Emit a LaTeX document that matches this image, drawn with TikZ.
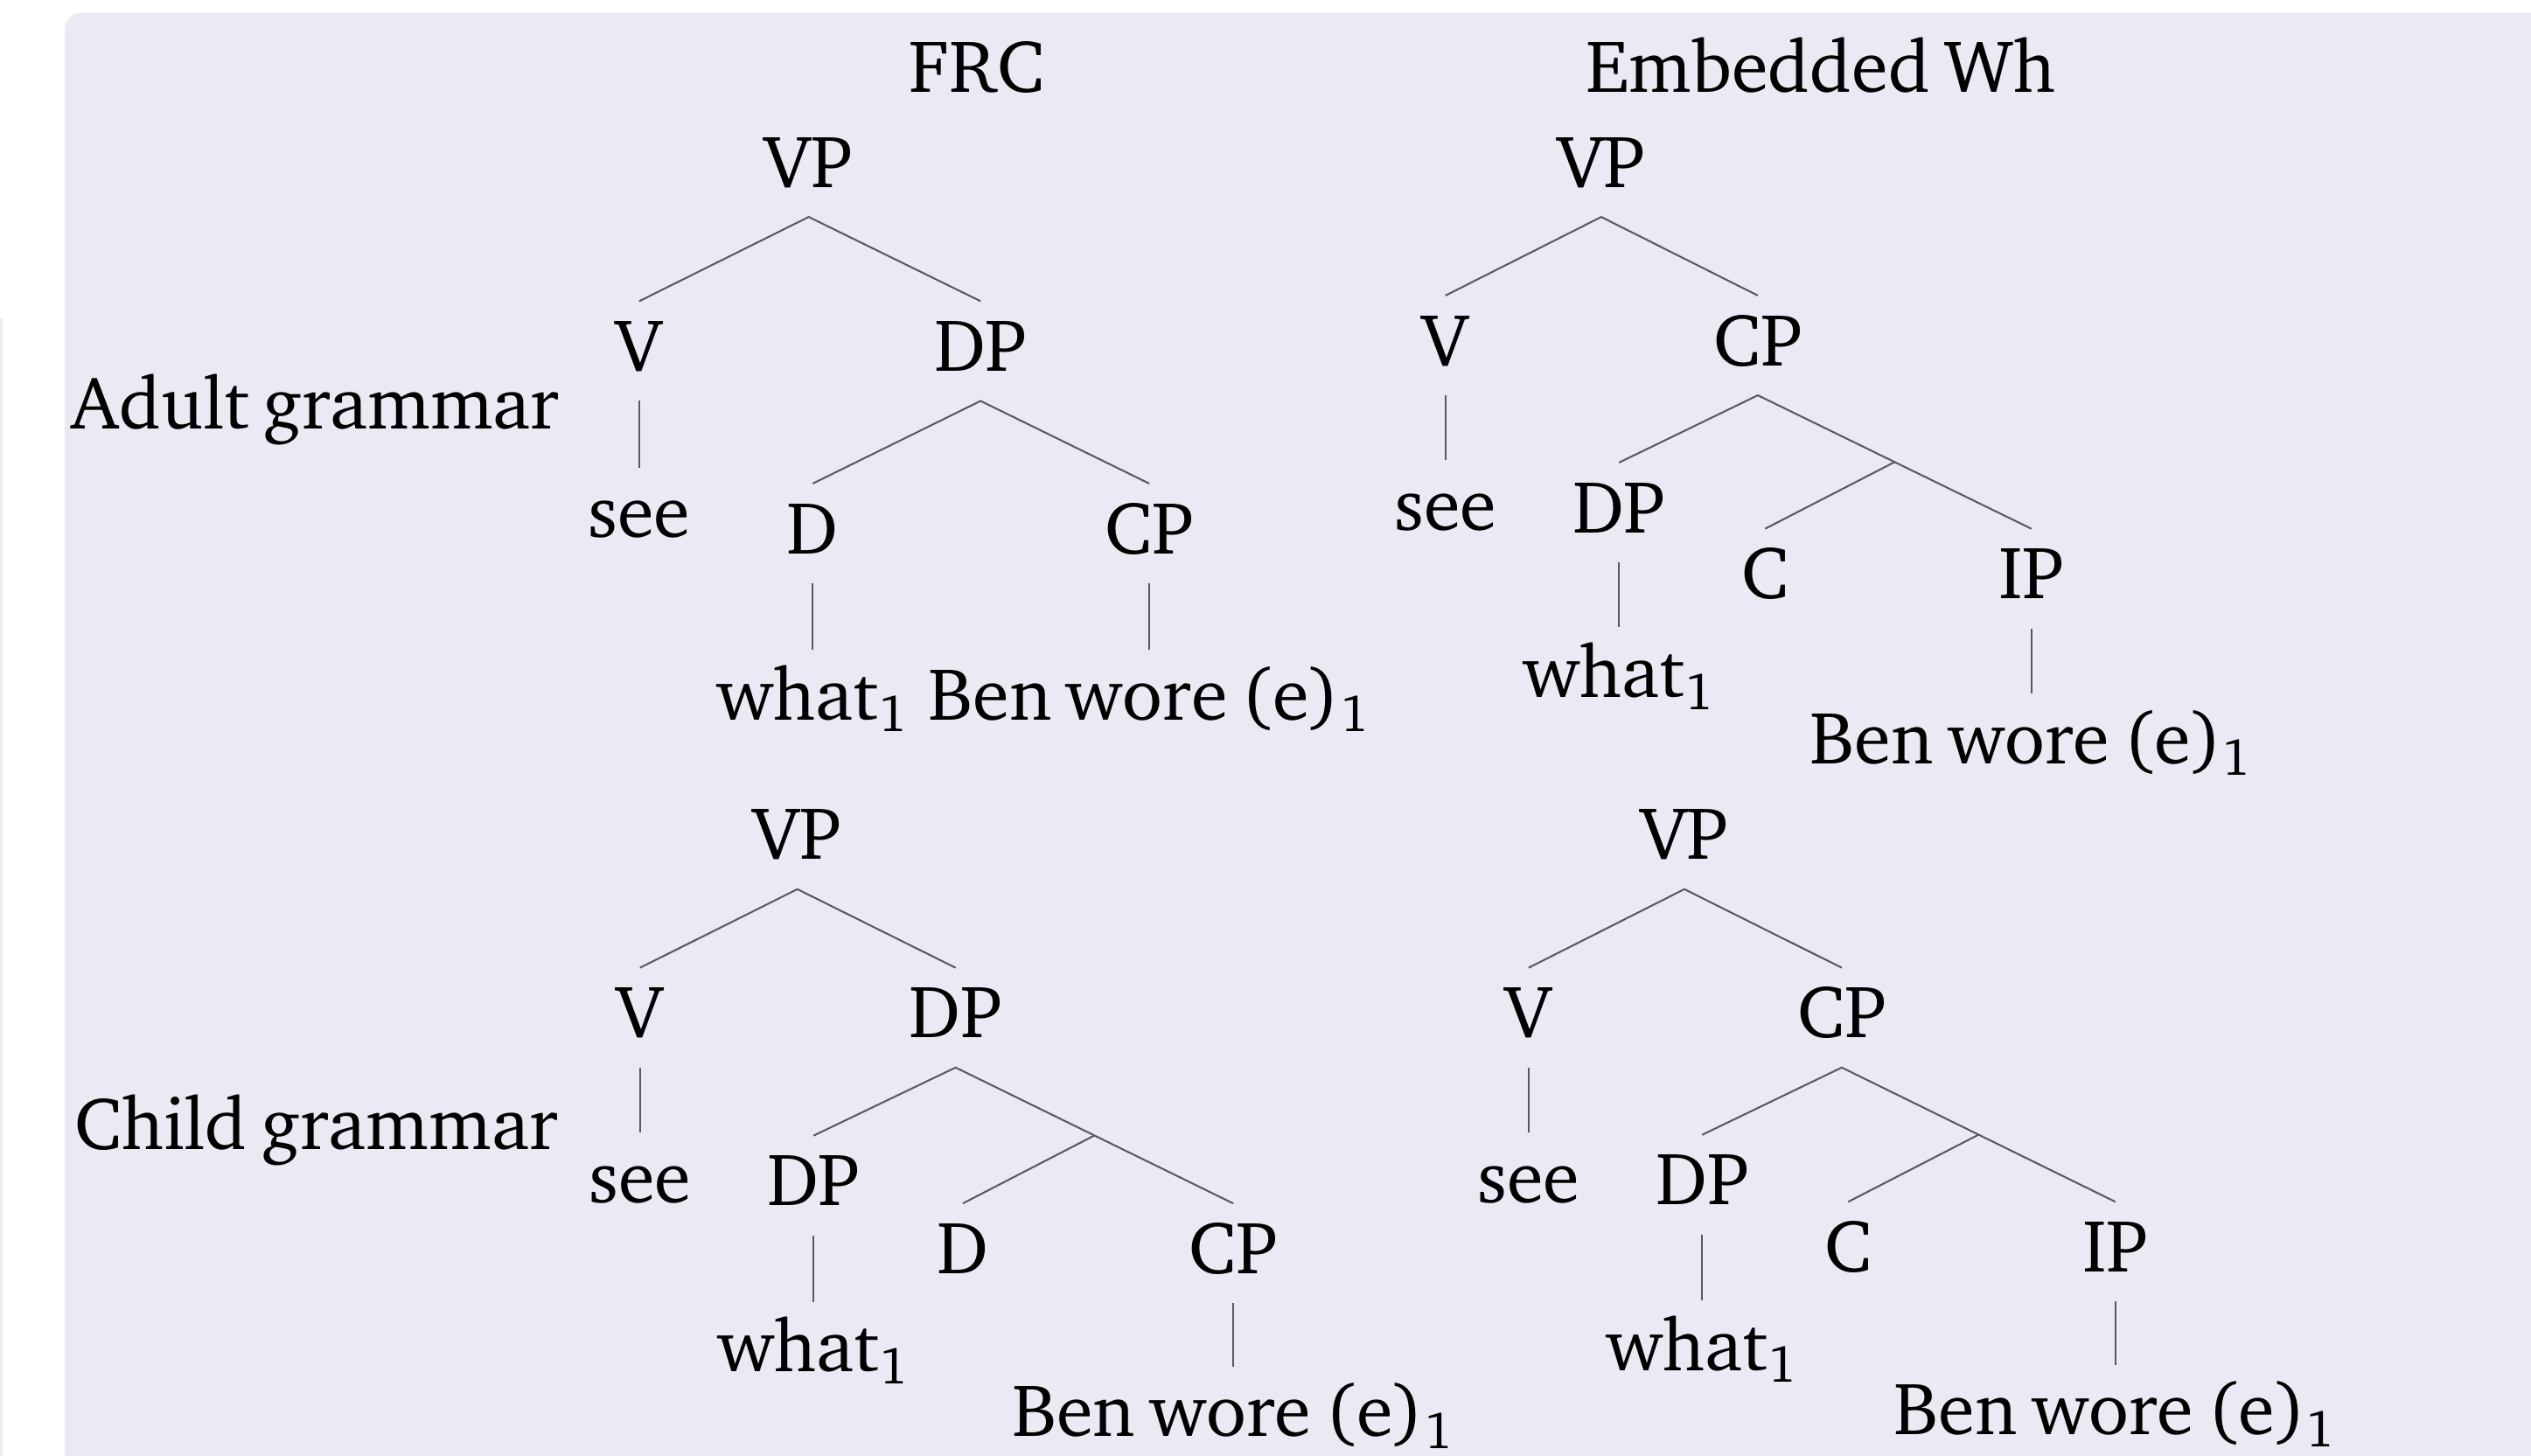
\documentclass[tikz,border=0pt]{standalone}
\usepackage[T1]{fontenc}
\usepackage{charter}
\usetikzlibrary{calc}
\definecolor{bgl}{RGB}{234,234,245}
\definecolor{ln}{RGB}{88,88,94}
\newcommand{\pfont}{\fontsize{23}{27}\selectfont\spaceskip=0.19em\relax}
\begin{document}
\begin{tikzpicture}[x=0.5pt,y=-0.5pt,
  font=\pfont,
  lbl/.style={anchor=base, inner sep=0pt, text height=21.5pt, text depth=9pt},
  br/.style={draw=ln, line width=0.55pt}]
\useasboundingbox (0,0) rectangle (1568,902);
\fill[bgl, rounded corners=5pt] (40,8) rectangle (1620,960);
\fill[bgl] (0,197) rectangle (1.5,902);
% titles and row labels
\node[lbl] (frc) at (605,57) {FRC};
\node[lbl] (emb) at (1128,57) {Embedded Wh};
\node[lbl, anchor=base west] (adult) at (44,266) {Adult grammar};
\node[lbl, anchor=base west] (child) at (46,712) {Child grammar};
% tree A: adult FRC
\node[lbl] (aVP) at (501,116) {VP};
\node[lbl] (aV) at (396,230) {V};
\node[lbl] (aDP) at (607.5,230) {DP};
\node[lbl] (asee) at (396,333) {see};
\node[lbl] (aD) at (503.5,343) {D};
\node[lbl] (aCP) at (712,343) {CP};
\node[lbl] (awhat) at (503.5,446) {what\textsubscript{1}};
\node[lbl] (aben) at (712,446) {Ben wore (e)\textsubscript{1}};
\draw[br] (aV.north) -- (aVP.south) -- (aDP.north);
\draw[br] (aV.south) -- (asee.north);
\draw[br] (aD.north) -- (aDP.south) -- (aCP.north);
\draw[br] (aD.south) -- (awhat.north);
\draw[br] (aCP.south) -- (aben.north);
% tree B: adult embedded wh
\node[lbl] (bVP) at (992,116) {VP};
\node[lbl] (bV) at (895.5,226.5) {V};
\node[lbl] (bCP) at (1089,226.5) {CP};
\node[lbl] (bsee) at (895.5,328.5) {see};
\node[lbl] (bDP) at (1003,330) {DP};
\node[lbl] (bC) at (1093.5,371) {C};
\node[lbl] (bIP) at (1258.5,371) {IP};
\node[lbl] (bwhat) at (1003,432) {what\textsubscript{1}};
\node[lbl] (bben) at (1258.5,473) {Ben wore (e)\textsubscript{1}};
\coordinate (bX) at ($(bCP.south)!0.5!(bIP.north)$);
\draw[br] (bV.north) -- (bVP.south) -- (bCP.north);
\draw[br] (bV.south) -- (bsee.north);
\draw[br] (bDP.north) -- (bCP.south) -- (bIP.north);
\draw[br] (bX) -- (bC.north);
\draw[br] (bDP.south) -- (bwhat.north);
\draw[br] (bIP.south) -- (bben.north);
% tree C: child FRC
\node[lbl] (cVP) at (494,532.5) {VP};
\node[lbl] (cV) at (396.5,643) {V};
\node[lbl] (cDP) at (592,643) {DP};
\node[lbl] (csee) at (396.5,745) {see};
\node[lbl] (cDPb) at (504,747) {DP};
\node[lbl] (cD) at (596.5,789) {D};
\node[lbl] (cCP) at (764,789) {CP};
\node[lbl] (cwhat) at (504,850) {what\textsubscript{1}};
\node[lbl] (cben) at (764,890) {Ben wore (e)\textsubscript{1}};
\coordinate (cX) at ($(cDP.south)!0.5!(cCP.north)$);
\draw[br] (cV.north) -- (cVP.south) -- (cDP.north);
\draw[br] (cV.south) -- (csee.north);
\draw[br] (cDPb.north) -- (cDP.south) -- (cCP.north);
\draw[br] (cX) -- (cD.north);
\draw[br] (cDPb.south) -- (cwhat.north);
\draw[br] (cCP.south) -- (cben.north);
% tree D: child embedded wh
\node[lbl] (dVP) at (1043.5,532.5) {VP};
\node[lbl] (dV) at (947,643) {V};
\node[lbl] (dCP) at (1141,643) {CP};
\node[lbl] (dsee) at (947,745) {see};
\node[lbl] (dDP) at (1054.5,746.5) {DP};
\node[lbl] (dC) at (1145,788) {C};
\node[lbl] (dIP) at (1310.5,788) {IP};
\node[lbl] (dwhat) at (1054.5,849) {what\textsubscript{1}};
\node[lbl] (dben) at (1310.5,889) {Ben wore (e)\textsubscript{1}};
\coordinate (dX) at ($(dCP.south)!0.5!(dIP.north)$);
\draw[br] (dV.north) -- (dVP.south) -- (dCP.north);
\draw[br] (dV.south) -- (dsee.north);
\draw[br] (dDP.north) -- (dCP.south) -- (dIP.north);
\draw[br] (dX) -- (dC.north);
\draw[br] (dDP.south) -- (dwhat.north);
\draw[br] (dIP.south) -- (dben.north);
\end{tikzpicture}
\end{document}
